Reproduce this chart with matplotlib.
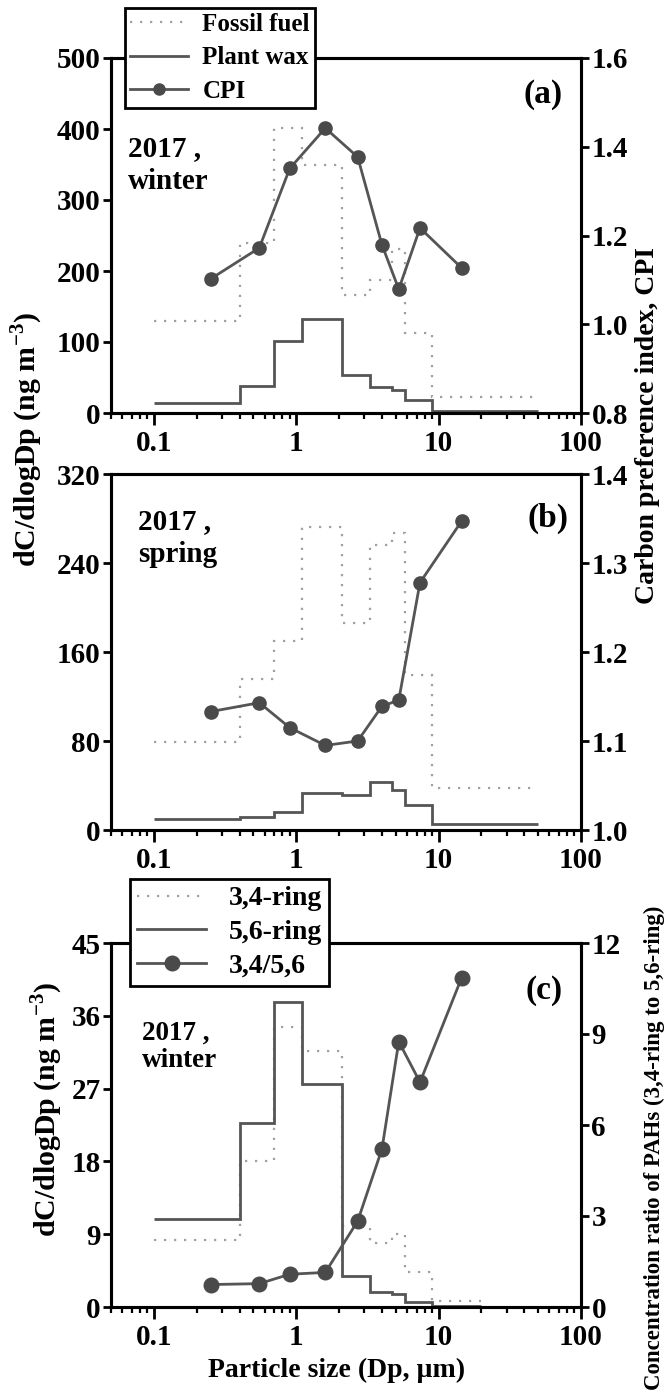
import matplotlib
matplotlib.use('Agg')
import matplotlib.pyplot as plt
from matplotlib.ticker import FixedLocator, FixedFormatter, LogLocator, NullFormatter

plt.rcParams['font.family'] = ['Liberation Serif', 'DejaVu Serif']
plt.rcParams['font.weight'] = 'bold'
plt.rcParams['mathtext.fontset'] = 'custom'
plt.rcParams['mathtext.rm'] = 'Liberation Serif:bold'
plt.rcParams['mathtext.bf'] = 'Liberation Serif:bold'
plt.rcParams['axes.linewidth'] = 2.2

# impactor bin edges (um) and stage mid sizes
edges_ab = [0.1, 0.4, 0.7, 1.1, 2.1, 3.3, 4.7, 5.8, 9.0, 50]
edges_c = [0.1, 0.4, 0.7, 1.1, 2.1, 3.3, 4.7, 5.8, 9.0, 20]
mid_size = [0.25, 0.55, 0.9, 1.6, 2.7, 4.0, 5.25, 7.4, 14.5]

# (a) 2017 winter, n-alkanes
fossil_winter = [130, 239, 402, 350, 166, 187, 231, 113, 22]
wax_winter = [14, 38, 101, 132, 54, 37, 33, 18, 3]
cpi_winter = [1.102, 1.172, 1.351, 1.442, 1.377, 1.179, 1.079, 1.217, 1.127]

# (b) 2017 spring, n-alkanes
fossil_spring = [79, 136, 170, 272, 186, 256, 267, 139, 38]
wax_spring = [9.6, 11.4, 15.9, 33.6, 31.2, 42.8, 36, 22.8, 5.4]
cpi_spring = [1.133, 1.143, 1.115, 1.095, 1.100, 1.139, 1.146, 1.278, 1.347]

# (c) 2017 winter, PAHs
ring34 = [8.3, 18.0, 34.6, 31.6, 10.0, 7.9, 9.0, 4.3, 0.8]
ring56 = [10.9, 22.8, 37.7, 27.6, 3.8, 1.9, 1.6, 0.6, 0.1]
ring_ratio = [0.74, 0.77, 1.08, 1.14, 2.83, 5.21, 8.75, 7.41, 10.85]

xticks = [0.1, 1, 10, 100]
xticklabels = ['0.1', '1', '10', '100']

W, H = 669, 1393
DOT = '#a0a0a0'
SOLID = '#555555'
MARK = '#4a4a4a'
TICK = 21


def fx(x):
    return x / W


def fy(y):
    return 1 - y / H


def rect(left, top, right, bottom):
    return [fx(left), fy(bottom), (right - left) / W, (bottom - top) / H]


fig = plt.figure(figsize=(W / 100, H / 100), dpi=100)


def panel(r, dotted, solid, ratio, edges, ylim, yticks, y2lim, y2ticks, y2fmt, ms):
    ax = fig.add_axes(r)
    ax.set_xscale('log')
    ax.stairs(dotted, edges, baseline=None, color=DOT, lw=1.6, ls=(0, (1, 3.5)))
    ax.stairs(solid, edges, baseline=None, color=SOLID, lw=2)
    ax.set_xlim(0.05, 100)
    ax.set_ylim(*ylim)
    ax.set_yticks(yticks)
    ax.xaxis.set_major_locator(FixedLocator(xticks))
    ax.xaxis.set_major_formatter(FixedFormatter(xticklabels))
    ax.xaxis.set_minor_locator(LogLocator(base=10, subs=range(2, 10), numticks=20))
    ax.xaxis.set_minor_formatter(NullFormatter())
    ax.tick_params(which='major', length=6, width=2, labelsize=TICK, pad=1.5)
    ax.tick_params(which='minor', length=4.5, width=1.6)
    ax.tick_params(axis='x', which='major', length=8.5, pad=4)

    ax2 = ax.twinx()
    ax2.plot(mid_size, ratio, '-o', color=SOLID, mfc=MARK, mec=MARK, ms=ms, lw=2)
    ax2.set_ylim(*y2lim)
    ax2.set_yticks(y2ticks)
    ax2.set_yticklabels([y2fmt % v for v in y2ticks])
    ax2.tick_params(length=6, width=2, labelsize=TICK, pad=1.5)
    return ax, ax2


# (a)
axa, axa2 = panel(rect(111, 58, 581, 413), fossil_winter, wax_winter, cpi_winter, edges_ab,
                  (0, 500), [0, 100, 200, 300, 400, 500],
                  (0.8, 1.6), [0.8, 1.0, 1.2, 1.4, 1.6], '%.1f', 9.5)
# (b)
axb, axb2 = panel(rect(111, 474, 581, 830), fossil_spring, wax_spring, cpi_spring, edges_ab,
                  (0, 320), [0, 80, 160, 240, 320],
                  (1.0, 1.4), [1.0, 1.1, 1.2, 1.3, 1.4], '%.1f', 9.5)
# (c)
axc, axc2 = panel(rect(111, 943, 581, 1307), ring34, ring56, ring_ratio, edges_c,
                  (0, 45), [0, 9, 18, 27, 36, 45],
                  (0, 12), [0, 3, 6, 9, 12], '%d', 10.5)

# panel tags and season notes
for tag, x, y in [('(a)', 543, 94), ('(b)', 548, 518), ('(c)', 544, 990)]:
    fig.text(fx(x), fy(y), tag, fontsize=24, fontweight='bold', ha='center', va='center')
fig.text(fx(128), fy(165), '2017 ,\nwinter', fontsize=21, fontweight='bold',
         ha='left', va='center', linespacing=1.25)
fig.text(fx(138), fy(538), '2017 ,\nspring', fontsize=21, fontweight='bold',
         ha='left', va='center', linespacing=1.25)
fig.text(fx(142), fy(1047), '2017 ,\nwinter', fontsize=19.5, fontweight='bold',
         ha='left', va='center', linespacing=1.15)

# axis labels
ylab = r'dC/dlogDp (ng m$^{\mathbf{-3}}$)'
fig.text(fx(27), fy(440), ylab, fontsize=21.5, fontweight='bold', rotation=90,
         ha='center', va='center')
fig.text(fx(47), fy(1110), ylab, fontsize=21.5, fontweight='bold', rotation=90,
         ha='center', va='center')
fig.text(fx(647), fy(426), 'Carbon preference index, CPI', fontsize=20, fontweight='bold',
         rotation=90, ha='center', va='center')
fig.text(fx(654), fy(1148), 'Concentration ratio of PAHs (3,4-ring to 5,6-ring)', fontsize=16.5,
         fontweight='bold', rotation=90, ha='center', va='center')
fig.text(fx(337), fy(1370), 'Particle size (Dp, \u00b5m)', fontsize=20, fontweight='bold',
         ha='center', va='center')

# legends
h_dot = plt.Line2D([], [], color=DOT, lw=1.6, ls=(0, (1, 3.5)))
h_sol = plt.Line2D([], [], color=SOLID, lw=2)
h_cpi = plt.Line2D([], [], color=SOLID, lw=2, marker='o', mfc=MARK, mec=MARK, ms=8)
h_rat = plt.Line2D([], [], color=SOLID, lw=2, marker='o', mfc=MARK, mec=MARK, ms=10.5)

leg_kw = dict(loc='upper left', bbox_transform=fig.transFigure, frameon=True, fancybox=False,
              edgecolor='black', framealpha=1, borderaxespad=0)
lega = fig.legend([h_dot, h_sol, h_cpi], ['Fossil fuel', 'Plant wax', 'CPI'],
                  bbox_to_anchor=(fx(125), fy(8)), handlelength=2.3, handletextpad=0.6,
                  borderpad=0.2, labelspacing=0.42, prop={'size': 18, 'weight': 'bold'}, **leg_kw)
lega.get_frame().set_linewidth(2)
legc = fig.legend([h_dot, h_sol, h_rat], ['3,4-ring', '5,6-ring', '3,4/5,6'],
                  bbox_to_anchor=(fx(130), fy(879)), handlelength=2.5, handletextpad=0.8,
                  borderpad=0.25, labelspacing=0.3, prop={'size': 20, 'weight': 'bold'}, **leg_kw)
legc.get_frame().set_linewidth(2)

fig.savefig('out.png', dpi=100)
